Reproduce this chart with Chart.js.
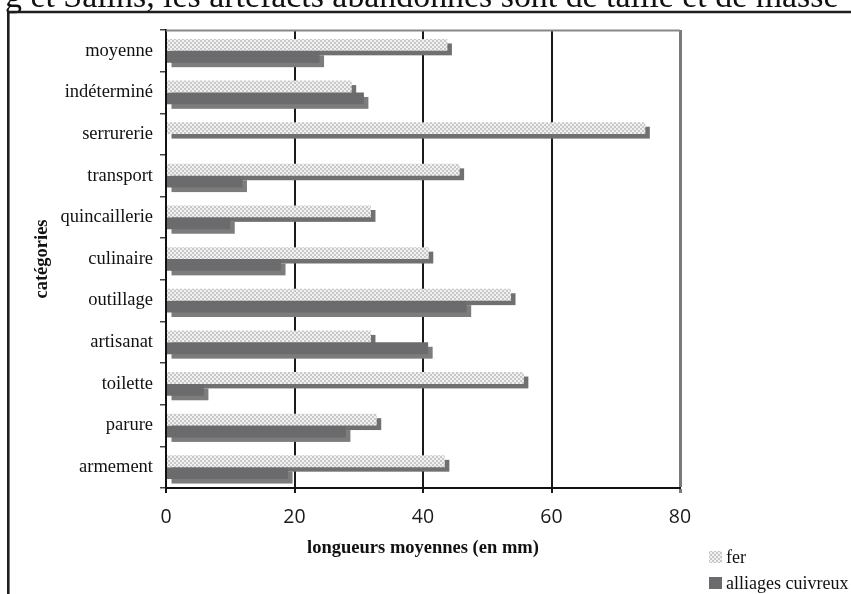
<!DOCTYPE html>
<html>
<head>
<meta charset="utf-8">
<script src="https://cdn.jsdelivr.net/npm/chart.js@4"></script>
<style>
html,body{margin:0;padding:0;background:#fff;}
#wrap{position:relative;width:851px;height:594px;}
</style>
</head>
<body>
<div id="wrap"><canvas id="c" width="851" height="594"></canvas></div>
<script>
// ---- data ----
const categories = ['moyenne','indéterminé','serrurerie','transport','quincaillerie','culinaire','outillage','artisanat','toilette','parure','armement'];
const ferValues = [43.8, 28.9, 74.6, 45.7, 31.9, 40.9, 53.7, 31.9, 55.7, 32.8, 43.4];
const cuivreValues = [23.9, 30.8, 0, 11.9, 10.0, 17.9, 46.8, 40.8, 5.9, 28.0, 19.0];
const seriesNames = ['fer', 'alliages cuivreux'];
const xTickValues = [0, 20, 40, 60, 80];
const xTitle = 'longueurs moyennes (en mm)';
const yTitle = 'catégories';
const captionText = 'g et Salins, les artefacts abandonnés sont de taille et de masse';

// ---- styles ----
const SERIF = '"Liberation Serif", "Times New Roman", serif';
function makePattern() {
  const p = document.createElement('canvas');
  p.width = 4; p.height = 4;
  const g = p.getContext('2d');
  g.fillStyle = '#f1f1f1'; g.fillRect(0,0,4,4);
  g.fillStyle = '#c8c8c8'; g.fillRect(0,0,2,2); g.fillRect(2,2,2,2);
  return document.getElementById('c').getContext('2d').createPattern(p, 'repeat');
}
const ferFill = makePattern();
const cuivreFill = '#6b6b6d';
const shadowColors = ['#707070', '#7c7c7c'];
const SH = 4.5;

const shadowPlugin = {
  id: 'shadow3d',
  beforeDatasetsDraw(chart) {
    const ctx = chart.ctx;
    ctx.save();
    chart.data.datasets.forEach((ds, i) => {
      const meta = chart.getDatasetMeta(i);
      meta.data.forEach(el => {
        const p = el.getProps(['x','y','base','height'], true);
        const w = p.x - p.base;
        if (w <= 0.5) return;
        ctx.fillStyle = shadowColors[i];
        ctx.fillRect(p.base + SH, p.y - p.height/2 + SH, w, p.height);
      });
    });
    ctx.restore();
  }
};

const decorPlugin = {
  id: 'decor',
  afterDraw(chart) {
    const ctx = chart.ctx;
    const a = chart.chartArea;
    ctx.save();
    // top border of plot
    ctx.strokeStyle = '#888888';
    ctx.lineWidth = 2;
    ctx.beginPath();
    ctx.moveTo(a.left, a.top + 0.5);
    ctx.lineTo(a.right, a.top + 0.5);
    ctx.stroke();
    // caption (cropped)
    ctx.fillStyle = '#111';
    ctx.font = '100px ' + SERIF;
    const w100 = ctx.measureText(captionText).width;
    const fs = 100 * 834 / w100;
    ctx.font = fs + 'px ' + SERIF;
    ctx.textBaseline = 'alphabetic';
    ctx.textAlign = 'left';
    ctx.fillText(captionText, 5, 7);
    // outer frame
    ctx.fillStyle = '#fff';
    ctx.fillRect(9.6, 13.3, 842, 3);
    ctx.strokeStyle = '#1e1e1e';
    ctx.lineWidth = 2.6;
    ctx.beginPath();
    ctx.moveTo(8.3, 594);
    ctx.lineTo(8.3, 12);
    ctx.lineTo(851, 12);
    ctx.stroke();
    // axis titles
    ctx.font = 'bold 18.5px ' + SERIF;
    ctx.fillStyle = '#111';
    ctx.textAlign = 'center';
    ctx.textBaseline = 'middle';
    ctx.fillText(xTitle, (a.left + a.right) / 2, 548);
    ctx.save();
    ctx.translate(42, (a.top + a.bottom) / 2);
    ctx.rotate(-Math.PI / 2);
    ctx.fillText(yTitle, 0, 0);
    ctx.restore();
    // legend
    const items = [[seriesNames[0], ferFill, 557], [seriesNames[1], cuivreFill, 583]];
    ctx.font = '18px ' + SERIF;
    ctx.textAlign = 'left';
    ctx.textBaseline = 'middle';
    items.forEach(([t, f, cy]) => {
      ctx.fillStyle = f;
      ctx.fillRect(709, cy - 6, 13, 12);
      ctx.fillStyle = '#111';
      ctx.fillText(t, 726, cy + 1);
    });
    ctx.restore();
  }
};

new Chart(document.getElementById('c'), {
  type: 'bar',
  data: {
    labels: categories,
    datasets: [
      { label: seriesNames[0], data: ferValues, backgroundColor: ferFill, borderWidth: 0 },
      { label: seriesNames[1], data: cuivreValues, backgroundColor: cuivreFill, borderWidth: 0 }
    ]
  },
  options: {
    indexAxis: 'y',
    responsive: false,
    animation: false,
    devicePixelRatio: 1,
    categoryPercentage: 0.57,
    barPercentage: 1.0,
    layout: { padding: { top: 30, left: 0, right: 171, bottom: 0 } },
    plugins: { legend: { display: false }, tooltip: { enabled: false } },
    scales: {
      x: {
        min: xTickValues[0],
        max: xTickValues[xTickValues.length - 1],
        afterFit(s) { s.height = 106; },
        afterBuildTicks(s) { s.ticks = xTickValues.map(v => ({ value: v })); },
        border: { display: true, color: '#111', width: 2 },
        grid: {
          color: c => c.tick && c.tick.value === 80 ? '#7a7a7a' : (c.tick && c.tick.value === 0 ? '#111' : '#1a1a1a'),
          lineWidth: c => c.tick && c.tick.value === 80 ? 3 : 2,
          tickLength: 5,
          drawTicks: true
        },
        ticks: {
          padding: 13,
          color: '#1a1a1a',
          font: { family: '"Open Sans", sans-serif', size: 19.5 }
        }
      },
      y: {
        afterFit(s) { s.width = 166; },
        border: { display: true, color: '#111', width: 2 },
        grid: {
          offset: true,
          drawOnChartArea: false,
          drawTicks: true,
          tickLength: 6,
          color: '#444',
          lineWidth: 1.5
        },
        ticks: {
          padding: 7,
          color: '#111',
          font: { family: SERIF, size: 18.5 }
        }
      }
    }
  },
  plugins: [shadowPlugin, decorPlugin]
});
</script>
</body>
</html>
